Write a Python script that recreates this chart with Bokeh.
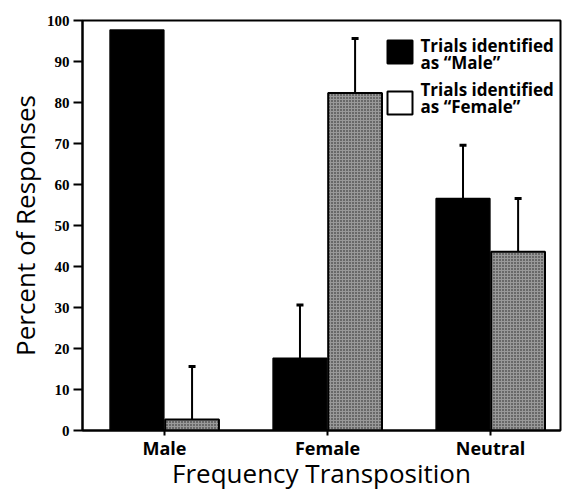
from bokeh.plotting import figure
from bokeh.models import (ColumnDataSource, Whisker, TeeHead, FixedTicker, Range1d,
                          Label, BoxAnnotation)
from bokeh.embed import file_html
from bokeh.resources import INLINE

categories = ["Male", "Female", "Neutral"]
male_resp = [97.7, 17.6, 56.6]
female_resp = [2.7, 82.3, 43.6]
male_err = [float("nan"), 13.0, 13.0]
female_err = [12.9, 13.3, 13.0]
y_ticks = [0, 10, 20, 30, 40, 50, 60, 70, 80, 90, 100]
legend_lines = [["Trials identified", "as \u201cMale\u201d"],
                ["Trials identified", "as \u201cFemale\u201d"]]

pos = list(range(len(categories)))
off = 0.169
bw = 0.33

src_m = ColumnDataSource(dict(x=[i - off for i in pos], top=male_resp,
                              up=[v + e for v, e in zip(male_resp, male_err)]))
src_f = ColumnDataSource(dict(x=[i + off for i in pos], top=female_resp,
                              up=[v + e for v, e in zip(female_resp, female_err)]))

p = figure(width=573, height=493, output_backend="svg", toolbar_location=None,
           x_range=Range1d(-0.503, 2.429), y_range=Range1d(0, 100),
           min_border_left=82, min_border_right=13, min_border_top=20, min_border_bottom=63)
p.background_fill_color = "white"
p.outline_line_color = "black"
p.outline_line_width = 2
p.xgrid.visible = False
p.ygrid.visible = False

p.vbar(x="x", top="top", width=bw, source=src_m, fill_color="black", line_color="black", line_width=1.5)
p.vbar(x="x", top="top", width=bw, source=src_f, fill_color="#999999", line_color="black", line_width=2,
       hatch_pattern=".", hatch_color="black", hatch_scale=3, hatch_alpha=0.8)

for s in (src_m, src_f):
    w = Whisker(base="x", lower="top", upper="up", source=s, dimension="height",
                line_color="black", line_width=2,
                upper_head=TeeHead(size=7, line_color="black", line_width=3), lower_head=None)
    p.add_layout(w)

# hand-built legend (screen units measured from the frame's bottom-left)
swatch_fill = ["black", "white"]
entry_top = [390, 339]
text_top = [385, 341]
for lines, fill, top, ttop in zip(legend_lines, swatch_fill, entry_top, text_top):
    p.add_layout(BoxAnnotation(left=305, right=330, top=top, bottom=top - 23,
                               left_units="screen", right_units="screen",
                               top_units="screen", bottom_units="screen",
                               fill_color=fill, fill_alpha=1, line_color="black",
                               line_alpha=1, line_width=2))
    for k, txt in enumerate(lines):
        p.add_layout(Label(x=338, y=ttop - 17 * k, x_units="screen", y_units="screen",
                           text=txt, text_font="Open Sans", text_font_style="bold",
                           text_font_size="17px", text_color="black",
                           text_baseline="middle", text_align="left"))

p.yaxis.ticker = FixedTicker(ticks=y_ticks)
p.yaxis.minor_tick_line_color = None
p.yaxis.major_tick_out = 9
p.yaxis.major_tick_in = 0
p.yaxis.axis_line_width = 2
p.yaxis.major_tick_line_width = 2
p.yaxis.major_label_text_font = "Liberation Serif"
p.yaxis.major_label_text_font_style = "bold"
p.yaxis.major_label_text_font_size = "15px"
p.yaxis.major_label_text_color = "black"
p.yaxis.major_label_standoff = 4
p.yaxis.axis_label = "Percent of Responses"
p.yaxis.axis_label_text_font = "Open Sans"
p.yaxis.axis_label_text_font_style = "normal"
p.yaxis.axis_label_text_font_size = "26px"
p.yaxis.axis_label_text_color = "black"
p.yaxis.axis_label_standoff = 1

p.xaxis.ticker = FixedTicker(ticks=pos)
p.xaxis.major_label_overrides = {i: c for i, c in zip(pos, categories)}
p.xaxis.minor_tick_line_color = None
p.xaxis.major_tick_out = 5
p.xaxis.major_tick_in = 0
p.xaxis.axis_line_width = 2
p.xaxis.major_tick_line_width = 2
p.xaxis.major_label_text_font = "Open Sans"
p.xaxis.major_label_text_font_style = "bold"
p.xaxis.major_label_text_font_size = "18px"
p.xaxis.major_label_text_color = "black"
p.xaxis.major_label_standoff = 0
p.xaxis.axis_label = "Frequency Transposition"
p.xaxis.axis_label_text_font = "Open Sans"
p.xaxis.axis_label_text_font_style = "normal"
p.xaxis.axis_label_text_font_size = "26px"
p.xaxis.axis_label_text_color = "black"
p.xaxis.axis_label_standoff = -8

open("out.html", "w").write(file_html(p, INLINE))
